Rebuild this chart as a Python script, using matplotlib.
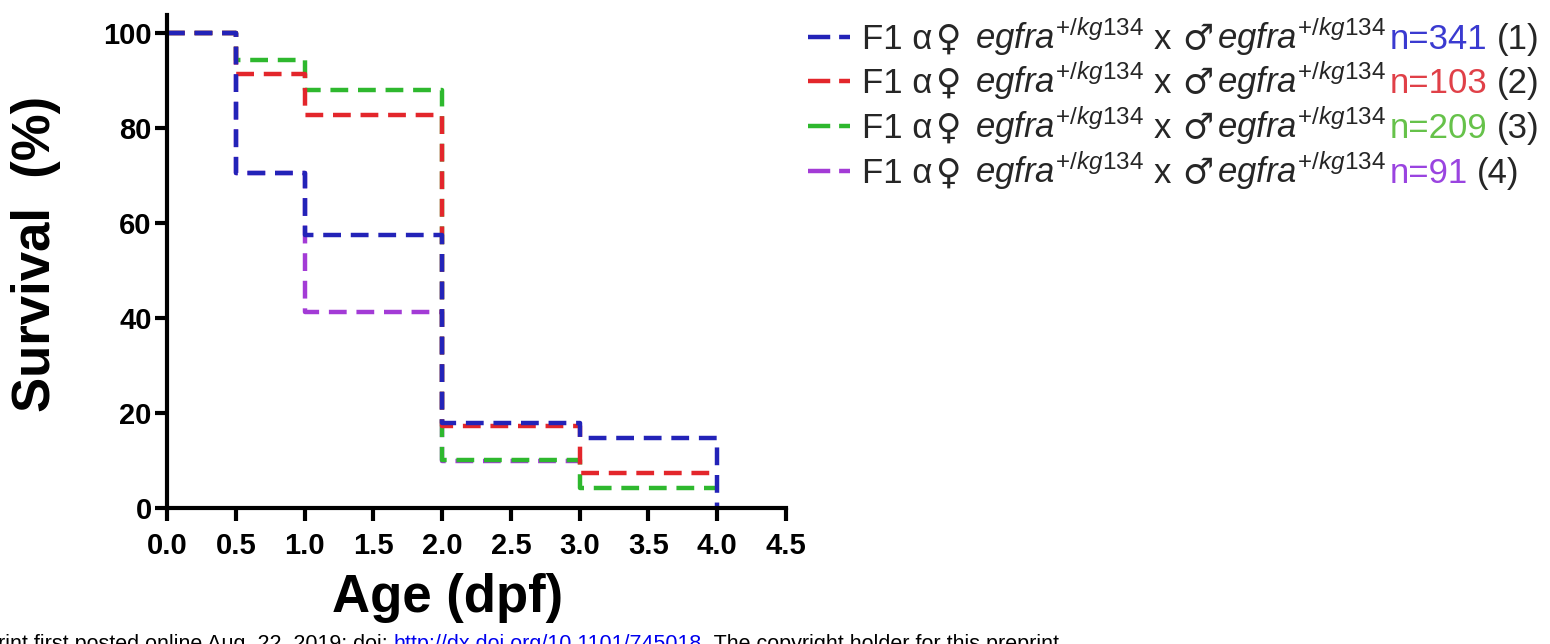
import matplotlib
matplotlib.use("Agg")
import matplotlib.pyplot as plt
from matplotlib.lines import Line2D
from matplotlib.offsetbox import AnchoredOffsetbox, HPacker, TextArea, DrawingArea

plt.rcParams["font.family"] = ["Liberation Sans", "DejaVu Sans"]
plt.rcParams["mathtext.fontset"] = "custom"
plt.rcParams["mathtext.rm"] = "Liberation Sans"
plt.rcParams["mathtext.it"] = "Liberation Sans:italic"

# Kaplan-Meier style survival (%) per cross, step changes at these ages (dpf)
t_cross1 = [0.0, 0.5, 1.0, 2.0, 3.0, 4.0]
s_cross1 = [100, 70.5, 57.5, 18.0, 14.7, 0.0]
t_cross2 = [0.0, 0.5, 1.0, 2.0, 3.0, 4.0]
s_cross2 = [100, 91.3, 82.7, 17.2, 7.4, 7.4]
t_cross3 = [0.0, 0.5, 1.0, 2.0, 3.0, 4.0]
s_cross3 = [100, 94.3, 88.0, 10.2, 4.2, 4.2]
t_cross4 = [0.0, 0.5, 1.0, 2.0, 3.0]
s_cross4 = [100, 70.5, 41.3, 9.8, 9.8]

n_values = ["n=341", "n=103", "n=209", "n=91"]
group_ids = ["(1)", "(2)", "(3)", "(4)"]
line_colors = ["#2323b8", "#e3262b", "#2eb82e", "#a33bd6"]
n_colors = ["#3a3ad0", "#e04048", "#66c24a", "#9a44e0"]

x_ticks = [0.0, 0.5, 1.0, 1.5, 2.0, 2.5, 3.0, 3.5, 4.0, 4.5]
y_ticks = [0, 20, 40, 60, 80, 100]

W, H = 1550, 644
fig = plt.figure(figsize=(W / 100, H / 100), dpi=100)
ax = fig.add_axes([167 / W, 1 - 508 / H, (786 - 167) / W, (508 - 15) / H])

series = [(t_cross4, s_cross4), (t_cross3, s_cross3), (t_cross2, s_cross2), (t_cross1, s_cross1)]
colors = [line_colors[3], line_colors[2], line_colors[1], line_colors[0]]
for (t, s), c in zip(series, colors):
    ax.step(t, s, where="post", color=c, lw=3.2, dashes=(4, 2.2), clip_on=False)

ax.set_xlim(0, 4.5)
ax.set_ylim(0, 103.8)
ax.set_xticks(x_ticks)
ax.set_xticklabels([f"{v:.1f}" for v in x_ticks])
ax.set_yticks(y_ticks)
ax.set_yticklabels([str(v) for v in y_ticks])
for side in ["top", "right"]:
    ax.spines[side].set_visible(False)
for side in ["left", "bottom"]:
    ax.spines[side].set_linewidth(3)
ax.tick_params(direction="out", length=9, width=3, labelsize=21)
ax.tick_params(axis="x", pad=8)
ax.tick_params(axis="y", pad=2)
for lab in ax.get_xticklabels() + ax.get_yticklabels():
    lab.set_fontweight("bold")

fig.text(36 / W, 1 - 254 / H, "Survival  (%)", rotation=90, fontsize=38,
         fontweight="bold", ha="center", va="center")
fig.text(448 / W, 1 - 612 / H, "Age (dpf)", fontsize=38, fontweight="bold",
         ha="center", va="baseline")

# legend drawn by hand so the n= part can carry its own colour
row_y = [37, 81, 126, 171]
geno = r"$\mathit{egfra}^{\mathit{+/kg134}}$"
fs = 25
for i in range(4):
    yf = 1 - row_y[i] / H
    fig.add_artist(Line2D([808 / W, 850 / W], [yf, yf], transform=fig.transFigure,
                          color=line_colors[i], lw=3.2, dashes=(5, 2)))
    props = dict(fontsize=fs, color="#262626")
    sym = dict(fontsize=fs, color="#262626", family="DejaVu Sans")
    parts = [
        TextArea("F1 α", textprops=props),
        DrawingArea(2, 1),
        TextArea("♀", textprops=sym),
        DrawingArea(10, 1),
        TextArea(geno, textprops=props),
        DrawingArea(7, 1),
        TextArea("x", textprops=props),
        DrawingArea(8, 1),
        TextArea("♂", textprops=sym),
        DrawingArea(3, 1),
        TextArea(geno, textprops=props),
        DrawingArea(2, 1),
        TextArea(n_values[i], textprops=dict(fontsize=fs, color=n_colors[i])),
        DrawingArea(7, 1),
        TextArea(group_ids[i], textprops=props),
    ]
    row = HPacker(children=parts, align="baseline", pad=0, sep=0)
    box = AnchoredOffsetbox(loc="center left", child=row, pad=0, borderpad=0,
                            frameon=False, bbox_to_anchor=(862 / W, yf),
                            bbox_transform=fig.transFigure)
    fig.add_artist(box)

# clipped preprint footer along the bottom edge
ffs = 15.5
foot = fig.text(-2 / W, -6 / H, "rint first posted online Aug. 22, 2019; doi:",
                fontsize=ffs, color="black", ha="left", va="baseline")
link = plt.annotate("http://dx.doi.org/10.1101/745018", xy=(1, 0), xycoords=foot,
                    xytext=(4, 0), textcoords="offset points", fontsize=ffs,
                    color="#0000ee", ha="left", va="bottom",
                    annotation_clip=False)
plt.annotate(". The copyright holder for this preprint", xy=(1, 0), xycoords=link,
             xytext=(0, 0), textcoords="offset points", fontsize=ffs,
             color="black", ha="left", va="bottom", annotation_clip=False)

fig.savefig("out.png", dpi=100)
